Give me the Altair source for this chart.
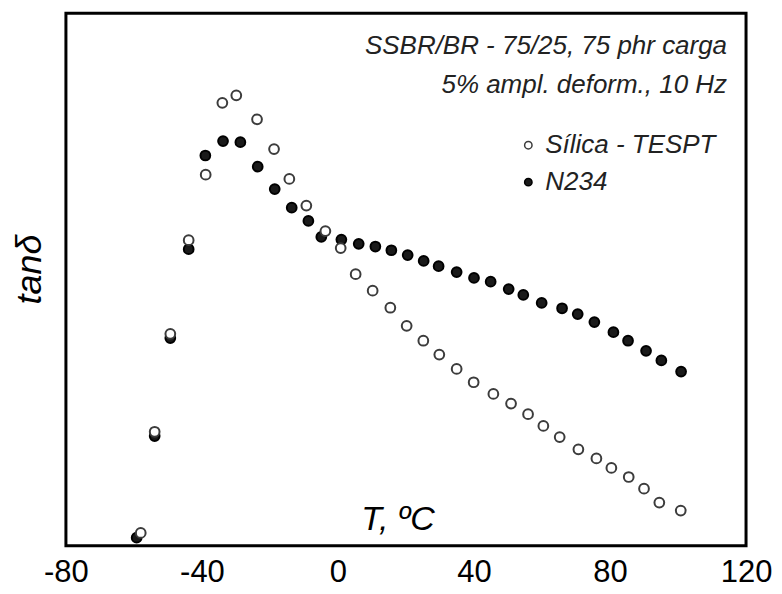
import altair as alt
import pandas as pd

# Temperature (°C) and relative tan(delta) (no y scale shown)
silica_T = [-58.0, -53.9, -49.3, -43.9, -38.9, -34.0, -29.9, -23.8, -18.8, -14.3, -9.3, -3.7,
            0.8, 5.2, 10.2, 15.4, 20.2, 25.1, 29.8, 34.9, 39.9, 45.7, 50.9, 55.9, 60.4, 65.2,
            70.7, 76.0, 80.4, 85.5, 90.0, 94.5, 100.8]
silica_tan = [0.024, 0.214, 0.398, 0.574, 0.697, 0.832, 0.846, 0.801, 0.745, 0.689, 0.639, 0.591,
              0.559, 0.510, 0.479, 0.447, 0.413, 0.385, 0.359, 0.332, 0.307, 0.285, 0.267, 0.247,
              0.225, 0.204, 0.181, 0.164, 0.146, 0.129, 0.107, 0.081, 0.066]

n234_T = [-59.2, -53.9, -49.3, -43.9, -39.0, -33.8, -28.7, -23.6, -18.6, -13.6, -8.7, -4.9,
          1.0, 6.1, 11.0, 15.7, 20.5, 25.2, 29.6, 34.9, 40.0, 44.9, 50.2, 54.5, 59.9, 65.9,
          70.5, 75.4, 81.0, 85.3, 90.6, 95.1, 100.9]
n234_tan = [0.015, 0.206, 0.390, 0.557, 0.733, 0.760, 0.758, 0.712, 0.670, 0.635, 0.610, 0.580,
            0.575, 0.567, 0.562, 0.555, 0.546, 0.535, 0.525, 0.514, 0.503, 0.496, 0.482, 0.471,
            0.456, 0.446, 0.435, 0.420, 0.401, 0.385, 0.366, 0.348, 0.327]

series_names = ["Sílica - TESPT", "N234"]
x_ticks = [-80, -40, 0, 40, 80, 120]
note_line1 = "SSBR/BR - 75/25, 75 phr carga"
note_line2 = "5% ampl. deform., 10 Hz"

df = pd.concat([
    pd.DataFrame({"T": n234_T, "tan": n234_tan, "serie": series_names[1]}),
    pd.DataFrame({"T": silica_T, "tan": silica_tan, "serie": series_names[0]}),
], ignore_index=True)

FONT = "Liberation Sans"

legend = alt.Legend(
    title=None, orient="none", legendX=450, legendY=119,
    labelFont=FONT, labelFontStyle="italic", labelFontSize=26, labelColor="#222222",
    labelLimit=0,
    symbolType="circle", symbolSize=55, symbolStrokeWidth=1.5,
    rowPadding=11, labelOffset=4,
)

points = alt.Chart(df).mark_point(
    filled=True, size=95, strokeWidth=2, opacity=1, fillOpacity=1, strokeOpacity=1
).encode(
    x=alt.X("T:Q",
            scale=alt.Scale(domain=[-80, 120], nice=False, zero=False),
            axis=alt.Axis(values=x_ticks, domain=False, ticks=False, grid=False,
                          labelExpr="toString(datum.value)",
                          labelFont=FONT, labelFontSize=31, labelColor="black",
                          labelPadding=12, labelFlush=False,
                          title="T, ºC", titleFont=FONT, titleFontSize=34,
                          titleFontStyle="italic", titleFontWeight="normal",
                          titleColor="black", titleX=332, titleY=-16,
                          titleAlign="center", titleBaseline="alphabetic")),
    y=alt.Y("tan:Q",
            scale=alt.Scale(domain=[0, 1], nice=False, zero=False),
            axis=alt.Axis(labels=False, ticks=False, domain=False, grid=False,
                          title="tanδ", titleFont=FONT, titleFontSize=36,
                          titleFontStyle="italic", titleFontWeight="normal",
                          titleColor="black", titleX=-36, titleY=256, titleAngle=270,
                          titleAlign="center", titleBaseline="middle")),
    fill=alt.Fill("serie:N", scale=alt.Scale(domain=series_names, range=["white", "#1a1a1a"]),
                  legend=legend),
    stroke=alt.Stroke("serie:N", scale=alt.Scale(domain=series_names, range=["#3c3c3c", "#000000"]),
                      legend=legend),
)

note_df = pd.DataFrame({"k": [0]})
note1 = alt.Chart(note_df).mark_text(
    font=FONT, fontSize=26, fontStyle="italic", color="#222222", align="right", baseline="alphabetic"
).encode(x=alt.value(662), y=alt.value(41), text=alt.value(note_line1))
note2 = alt.Chart(note_df).mark_text(
    font=FONT, fontSize=26, fontStyle="italic", color="#222222", align="right", baseline="alphabetic"
).encode(x=alt.value(662), y=alt.value(80), text=alt.value(note_line2))

chart = alt.layer(points, note1, note2).properties(
    width=681, height=533,
    autosize=alt.AutoSizeParams(type="none"),
    padding={"left": 58, "top": 5, "right": 28, "bottom": 42},
    background="white",
).configure_view(stroke="black", strokeWidth=3)

chart.save("out.html", embed_options={"renderer": "svg", "actions": False})
